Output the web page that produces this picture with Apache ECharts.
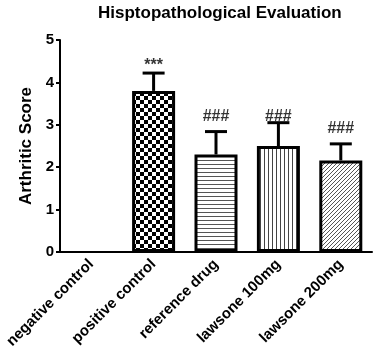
<!DOCTYPE html>
<html>
<head>
<meta charset="utf-8">
<script src="https://cdn.jsdelivr.net/npm/echarts@6/dist/echarts.min.js"></script>
<style>
  html, body { margin: 0; padding: 0; background: #fff; }
  #chart { width: 381px; height: 363px; }
</style>
</head>
<body>
<div id="chart"></div>
<script>
// data
var groups = ['negative control', 'positive control', 'reference drug', 'lawsone 100mg', 'lawsone 200mg'];
var means = [0, 3.8, 2.3, 2.5, 2.16];
var upper = [0, 4.22, 2.84, 3.05, 2.55];
var marks = ['', '***', '###', '###', '###'];
var markLevel = [0, 4.4, 3.2, 3.2, 2.92];
var patterns = ['none', 'checker', 'hlines', 'vlines', 'diag'];
var yTicks = [0, 1, 2, 3, 4, 5];

var FONT = '"Liberation Sans", Arial, sans-serif';

// fill patterns like the GraphPad bars
function makePattern(kind) {
  var c = document.createElement('canvas');
  var s = kind === 'checker' ? 8 : 4;
  c.width = s; c.height = s;
  var g = c.getContext('2d');
  g.fillStyle = '#fff';
  g.fillRect(0, 0, s, s);
  if (kind === 'checker') {
    g.fillStyle = '#000';
    g.fillRect(0, 0, 4, 4);
    g.fillRect(4, 4, 4, 4);
  } else if (kind === 'hlines') {
    g.fillStyle = '#555';
    g.fillRect(0, 0, s, 1);
  } else if (kind === 'vlines') {
    g.fillStyle = '#444';
    g.fillRect(0, 0, 1, s);
  } else if (kind === 'diag') {
    g.strokeStyle = '#555';
    g.lineWidth = 1;
    g.beginPath();
    g.moveTo(0, s); g.lineTo(s, 0);
    g.moveTo(-1, 1); g.lineTo(1, -1);
    g.moveTo(s - 1, s + 1); g.lineTo(s + 1, s - 1);
    g.stroke();
  }
  return c;
}

var barData = means.map(function (v, i) {
  return {
    value: v,
    itemStyle: {
      borderWidth: v > 0 ? 3 : 0,
      color: patterns[i] === 'none' ? '#fff' : { image: makePattern(patterns[i]), repeat: 'repeat' }
    }
  };
});

var errData = [];
var markData = [];
for (var i = 0; i < groups.length; i++) {
  if (upper[i] > means[i]) errData.push([i, means[i], upper[i]]);
  if (marks[i]) markData.push({ value: [i, markLevel[i]], txt: marks[i] });
}

var chart = echarts.init(document.getElementById('chart'), null, { renderer: 'canvas' });

chart.setOption({
  animation: false,
  title: {
    text: 'Hisptopathological Evaluation',
    left: 93,
    top: 0,
    textStyle: { fontFamily: FONT, fontSize: 17, fontWeight: 'bold', color: '#000' }
  },
  grid: { left: 60, right: 9, top: 40, bottom: 111, containLabel: false },
  xAxis: {
    type: 'category',
    data: groups,
    axisLine: { lineStyle: { color: '#000', width: 2 } },
    axisTick: { alignWithLabel: true, length: 5, lineStyle: { color: '#000', width: 2 } },
    axisLabel: {
      rotate: 45, margin: 10, interval: 0,
      fontFamily: FONT, fontSize: 15, fontWeight: 'bold', color: '#000'
    }
  },
  yAxis: {
    type: 'value',
    min: yTicks[0],
    max: yTicks[yTicks.length - 1],
    interval: 1,
    name: 'Arthritic Score',
    nameLocation: 'middle',
    nameGap: 25,
    nameTextStyle: { fontFamily: FONT, fontSize: 17, fontWeight: 'bold', color: '#000' },
    axisLine: { show: true, lineStyle: { color: '#000', width: 2 } },
    axisTick: { show: true, length: 4, lineStyle: { color: '#000', width: 2 } },
    splitLine: { show: false },
    axisLabel: { margin: 6, fontFamily: FONT, fontSize: 15, fontWeight: 'bold', color: '#000' }
  },
  series: [
    {
      type: 'bar',
      data: barData,
      barWidth: 43,
      itemStyle: { borderColor: '#000' },
      z: 2
    },
    {
      type: 'custom',
      data: errData,
      z: 1,
      renderItem: function (params, api) {
        var p0 = api.coord([api.value(0), api.value(1)]);
        var p1 = api.coord([api.value(0), api.value(2)]);
        var half = 11;
        var st = { stroke: '#000', lineWidth: 3 };
        return {
          type: 'group',
          children: [
            { type: 'line', shape: { x1: p0[0], y1: p0[1], x2: p1[0], y2: p1[1] }, style: st },
            { type: 'line', shape: { x1: p0[0] - half, y1: p1[1], x2: p0[0] + half, y2: p1[1] }, style: st }
          ]
        };
      }
    },
    {
      type: 'scatter',
      data: markData,
      symbolSize: 0,
      z: 3,
      label: {
        show: true,
        position: 'inside',
        formatter: function (p) { return p.data.txt; },
        fontFamily: FONT, fontSize: 16, fontWeight: 'bold', color: '#000'
      }
    }
  ]
});
</script>
</body>
</html>
